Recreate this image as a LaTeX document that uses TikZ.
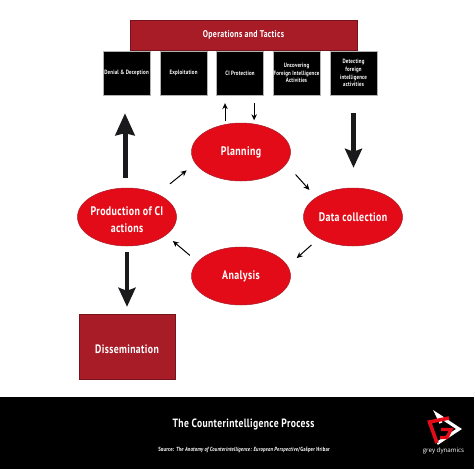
\documentclass[tikz,border=0pt]{standalone}
\usepackage{fontspec}
\setmainfont{PT Sans}[FakeStretch=0.8,LetterSpace=3,BoldFont={PT Sans Bold}]
\newfontfamily\logofont{Open Sans}
\usetikzlibrary{arrows.meta,shapes.geometric}
\definecolor{ovalred}{HTML}{E30B17}
\definecolor{boxred}{HTML}{A81C28}
\definecolor{arrowblk}{HTML}{1A1A1C}
\tikzset{
  oval/.style={ellipse,draw=boxred,line width=.5pt,fill=ovalred,minimum width=99pt,minimum height=58pt,inner sep=-14pt,text=white,font=\bfseries\fontsize{12.4}{16.5}\selectfont,align=center},
  blackbox/.style={rectangle,fill=black,draw=gray!60,line width=.3pt,minimum width=47pt,minimum height=44pt,inner sep=0pt,text=white,font=\bfseries\fontsize{6.2}{7.7}\selectfont,align=center},
  redbox/.style={rectangle,fill=boxred,draw=boxred!70!black,line width=.4pt,inner sep=0pt,text=white,font=\bfseries\selectfont,align=center},
  thin arrow/.style={draw=black,line width=1pt,-{Stealth[length=6pt,width=5.5pt]}},
  thick up/.style={draw=arrowblk,line width=5pt,-{Stealth[length=22pt,width=19pt,inset=2pt]}},
  thick down/.style={draw=arrowblk,line width=4.5pt,-{Stealth[length=19pt,width=17pt,inset=3pt]}},
}
\begin{document}
\begin{tikzpicture}[x=1pt,y=-1pt]
\useasboundingbox (0,0) rectangle (474,469);
\fill[white] (0,0) rectangle (474,469);
\fill[black] (0,397) rectangle (474,469);

\node[redbox,minimum width=227pt,minimum height=30pt,font=\bfseries\fontsize{9.8}{11}\selectfont] (ops) at (243.5,35) {Operations and Tactics};
\node[blackbox] (denial) at (126.5,73) {Denial \& Deception};
\node[blackbox] (exploit) at (183.5,73) {Exploitation};
\node[blackbox] (cip) at (240,73) {CI Protection};
\node[blackbox] (uncover) at (296.5,73) {Uncovering\\Foreign Intelligence\\Activities};
\node[blackbox] (detect) at (353.5,73) {Detecting\\foreign\\intelligence\\activities};

\node[oval] (plan) at (241,152) {Planning};
\node[oval] (data) at (353,217) {Data collection};
\node[oval] (analysis) at (241,276) {Analysis};
\node[oval] (prod) at (127,217) {\rule{0pt}{14pt}Production of CI\\actions};
\node[redbox,minimum width=96pt,minimum height=65pt,font=\bfseries\fontsize{12.2}{14}\selectfont] (diss) at (127,346.5) {\rule{0pt}{14pt}Dissemination};

\draw[thin arrow,shorten <=14pt,shorten >=10pt] (plan.-15) -- (data.152);
\draw[thin arrow,shorten <=10pt,shorten >=12pt] (data.212) -- (analysis.12);
\draw[thin arrow,shorten <=10pt,shorten >=9pt] (analysis.162) -- (prod.-25);
\draw[thin arrow,shorten <=16pt,shorten >=11pt] (prod.37) -- (plan.194);
\draw[thin arrow,shorten <=3.5pt,shorten >=8pt] (plan.120) -- (plan.120 |- cip.south);
\draw[thin arrow,shorten <=8pt,shorten >=3.5pt] (plan.65 |- cip.south) -- (plan.65);

\draw[thick up,shorten <=10pt,shorten >=18pt] ([xshift=-2pt]prod.north) -- ([xshift=-2pt]prod.north |- denial.south);
\draw[thick down,shorten <=6pt,shorten >=7pt] (prod.south) -- (prod.south |- diss.north);
\draw[thick down,shorten <=17.5pt,shorten >=20pt] (detect.south) -- (detect.south |- data.north);

\node[text=white,font=\bfseries\fontsize{12}{14}\selectfont] (title) at (243.5,424.5) {The Counterintelligence Process};
\node[text=white,font=\bfseries\fontsize{5.9}{7}\selectfont] (source) at (244,450) {Source: \textit{The Anatomy of Counterintelligence: European Perspective}/Gašper Hribar};

% logo
\draw[white,line width=3.2pt,miter limit=6] (441,423) -- (437,414.5) -- (459,429) -- (437,443.5);
\draw[ovalred,line width=3.6pt,miter limit=6] (449,418) -- (429.5,422) -- (437,443);
\draw[ovalred,line width=3.2pt,miter limit=6] (441,429.5) -- (451,429.5) -- (447,437.5) -- (440,437.5);
\node[text=white,font=\logofont\fontsize{6.2}{7}\selectfont,inner sep=0pt] (brand) at (443.5,451) {grey dynamics};
\end{tikzpicture}
\end{document}
